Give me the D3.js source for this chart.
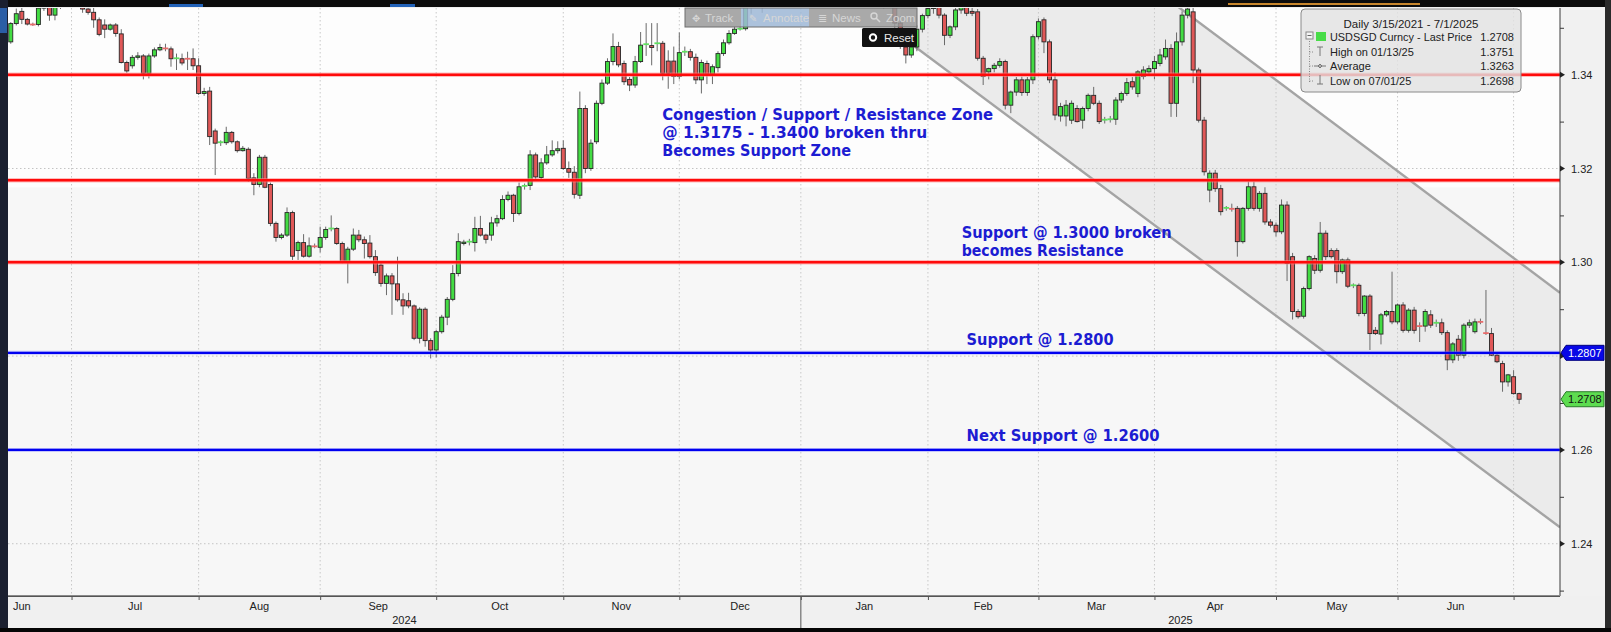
<!DOCTYPE html>
<html>
<head>
<meta charset="utf-8">
<script src="https://cdn.jsdelivr.net/npm/d3@7/dist/d3.min.js"></script>
<style>
html,body{margin:0;padding:0;background:#f0f0f0;}
svg{display:block;}
</style>
</head>
<body>
<svg id="chart" width="1611" height="632"></svg>
<script>
// ================= DATA (USDSGD daily candles: [open, high, low, close]) =================
const jun24 = [
[1.3470,1.3512,1.3466,1.3509],[1.3509,1.3541,1.3505,1.3530],[1.3535,1.3546,1.3508,1.3518],
[1.3518,1.3521,1.3505,1.3508],[1.3508,1.3511,1.3504,1.3507],[1.3507,1.3552,1.3503,1.3542],
[1.3542,1.3565,1.3536,1.3558],[1.3548,1.3558,1.3515,1.3527],[1.3527,1.3556,1.3516,1.3545],
[1.3545,1.3578,1.3540,1.3568],[1.3568,1.3582,1.3552,1.3562]];
const jul24 = [
[1.3562,1.3590,1.3555,1.3580],[1.3580,1.3592,1.3560,1.3572],[1.3572,1.3578,1.3532,1.3540],
[1.3540,1.3552,1.3528,1.3533],[1.3533,1.3543,1.3500,1.3517],[1.3517,1.3522,1.3482,1.3486],
[1.3506,1.3518,1.3478,1.3497],[1.3497,1.3509,1.3494,1.3506],[1.3506,1.3510,1.3481,1.3488],
[1.3487,1.3497,1.3424,1.3426],[1.3426,1.3430,1.3404,1.3408],[1.3419,1.3442,1.3413,1.3437],
[1.3437,1.3448,1.3432,1.3440],[1.3440,1.3444,1.3390,1.3403],[1.3403,1.3445,1.3392,1.3440],
[1.3440,1.3458,1.3436,1.3453],[1.3453,1.3466,1.3450,1.3458],[1.3458,1.3466,1.3450,1.3456],
[1.3455,1.3460,1.3417,1.3434],[1.3434,1.3445,1.3410,1.3435],[1.3434,1.3445,1.3420,1.3425],
[1.3436,1.3449,1.3410,1.3434],[1.3434,1.3456,1.3410,1.3419]];
const aug24 = [
[1.3419,1.3435,1.3357,1.3360],[1.3360,1.3372,1.3355,1.3364],[1.3365,1.3374,1.3250,1.3268],
[1.3280,1.3285,1.3186,1.3254],[1.3254,1.3260,1.3248,1.3256],[1.3255,1.3289,1.3250,1.3277],
[1.3277,1.3280,1.3253,1.3257],[1.3257,1.3260,1.3234,1.3238],[1.3238,1.3248,1.3236,1.3243],
[1.3241,1.3245,1.3172,1.3179],[1.3180,1.3190,1.3143,1.3166],[1.3166,1.3229,1.3160,1.3224],
[1.3224,1.3229,1.3158,1.3160],[1.3166,1.3170,1.3077,1.3083],[1.3083,1.3087,1.3044,1.3053],
[1.3053,1.3062,1.3049,1.3058],[1.3058,1.3117,1.3054,1.3106],[1.3106,1.3110,1.3005,1.3013],
[1.3025,1.3046,1.3005,1.3042],[1.3042,1.3060,1.3010,1.3013],[1.3013,1.3053,1.3010,1.3035],
[1.3036,1.3040,1.3030,1.3034]];
const sep24 = [
[1.3032,1.3076,1.3021,1.3053],[1.3053,1.3076,1.3048,1.3070],[1.3070,1.3100,1.3066,1.3072],
[1.3072,1.3075,1.3037,1.3040],[1.3040,1.3044,1.2998,1.3001],[1.3001,1.3033,1.2955,1.3028],
[1.3028,1.3072,1.3024,1.3058],[1.3058,1.3069,1.3043,1.3048],[1.3048,1.3055,1.3008,1.3040],
[1.3041,1.3058,1.3008,1.3012],[1.3012,1.3026,1.2971,1.2978],[1.2994,1.2998,1.2948,1.2955],
[1.2955,1.2976,1.2930,1.2971],[1.2971,1.2977,1.2888,1.2954],[1.2954,1.3012,1.2916,1.2920],
[1.2920,1.2934,1.2888,1.2907],[1.2918,1.2935,1.2902,1.2907],[1.2907,1.2910,1.2834,1.2838],
[1.2838,1.2904,1.2827,1.2900],[1.2900,1.2904,1.2820,1.2833],[1.2833,1.2838,1.2795,1.2813]];
const oct24 = [
[1.2813,1.2856,1.2797,1.2852],[1.2852,1.2888,1.2848,1.2883],[1.2883,1.2926,1.2866,1.2921],
[1.2921,1.2994,1.2917,1.2976],[1.2976,1.3062,1.2970,1.3044],[1.3040,1.3048,1.3036,1.3043],
[1.3043,1.3050,1.3036,1.3044],[1.3042,1.3097,1.3023,1.3072],[1.3072,1.3099,1.3055,1.3058],
[1.3058,1.3061,1.3040,1.3049],[1.3058,1.3097,1.3046,1.3084],[1.3084,1.3101,1.3076,1.3093],
[1.3093,1.3143,1.3090,1.3134],[1.3134,1.3151,1.3130,1.3143],[1.3143,1.3146,1.3086,1.3104],
[1.3104,1.3170,1.3100,1.3161],[1.3161,1.3168,1.3155,1.3163],[1.3164,1.3239,1.3154,1.3229],
[1.3229,1.3234,1.3177,1.3182],[1.3181,1.3222,1.3175,1.3212],[1.3212,1.3248,1.3208,1.3229],
[1.3229,1.3260,1.3225,1.3238],[1.3238,1.3258,1.3232,1.3242]];
const nov24 = [
[1.3243,1.3260,1.3197,1.3200],[1.3200,1.3215,1.3180,1.3192],[1.3192,1.3205,1.3136,1.3145],
[1.3143,1.3364,1.3135,1.3328],[1.3328,1.3335,1.3190,1.3200],[1.3200,1.3262,1.3195,1.3254],
[1.3257,1.3345,1.3252,1.3339],[1.3339,1.3390,1.3335,1.3382],[1.3382,1.3435,1.3378,1.3428],
[1.3428,1.3488,1.3420,1.3460],[1.3460,1.3470,1.3416,1.3421],[1.3424,1.3430,1.3378,1.3385],
[1.3390,1.3395,1.3365,1.3378],[1.3378,1.3440,1.3372,1.3428],[1.3428,1.3491,1.3425,1.3463],
[1.3463,1.3510,1.3440,1.3465],[1.3462,1.3510,1.3420,1.3458],[1.3465,1.3510,1.3450,1.3467],
[1.3467,1.3472,1.3388,1.3403],[1.3429,1.3452,1.3370,1.3403],[1.3429,1.3460,1.3380,1.3396]];
const dec24 = [
[1.3396,1.3490,1.3390,1.3447],[1.3447,1.3460,1.3440,1.3449],[1.3449,1.3455,1.3430,1.3437],
[1.3437,1.3445,1.3380,1.3389],[1.3389,1.3432,1.3360,1.3426],[1.3424,1.3430,1.3380,1.3401],
[1.3401,1.3422,1.3380,1.3417],[1.3415,1.3450,1.3405,1.3445],[1.3445,1.3475,1.3440,1.3468],
[1.3468,1.3495,1.3464,1.3488],[1.3488,1.3502,1.3485,1.3497],[1.3497,1.3503,1.3494,1.3498],
[1.3498,1.3560,1.3494,1.3545],[1.3545,1.3585,1.3530,1.3575],[1.3575,1.3600,1.3560,1.3590],
[1.3590,1.3610,1.3532,1.3598],[1.3598,1.3612,1.3585,1.3600],[1.3600,1.3618,1.3590,1.3610],
[1.3610,1.3640,1.3600,1.3625],[1.3625,1.3645,1.3610,1.3630],[1.3630,1.3660,1.3620,1.3650],
[1.3650,1.3668,1.3630,1.3655]];
const jan25 = [
[1.3655,1.3668,1.3640,1.3650],[1.3650,1.3690,1.3645,1.3680],[1.3680,1.3695,1.3665,1.3675],
[1.3675,1.3685,1.3625,1.3640],[1.3640,1.3680,1.3630,1.3670],[1.3670,1.3715,1.3665,1.3705],
[1.3705,1.3725,1.3695,1.3715],[1.3715,1.3740,1.3700,1.3730],[1.3730,1.3751,1.3705,1.3720],
[1.3720,1.3725,1.3680,1.3690],[1.3690,1.3700,1.3650,1.3670],[1.3670,1.3690,1.3655,1.3675],
[1.3675,1.3705,1.3660,1.3695],[1.3695,1.3700,1.3560,1.3580],[1.3580,1.3600,1.3545,1.3565],
[1.3565,1.3590,1.3540,1.3575],[1.3575,1.3590,1.3545,1.3555],[1.3555,1.3560,1.3500,1.3510],
[1.3510,1.3525,1.3455,1.3460],[1.3459,1.3465,1.3424,1.3442],[1.3442,1.3470,1.3436,1.3459],
[1.3459,1.3505,1.3450,1.3497],[1.3497,1.3530,1.3490,1.3526]];
const feb25 = [
[1.3526,1.3700,1.3520,1.3541],[1.3541,1.3580,1.3530,1.3560],[1.3545,1.3560,1.3520,1.3527],
[1.3527,1.3531,1.3463,1.3484],[1.3484,1.3505,1.3478,1.3502],[1.3502,1.3545,1.3495,1.3538],
[1.3538,1.3570,1.3530,1.3555],[1.3545,1.3560,1.3525,1.3531],[1.3535,1.3548,1.3525,1.3531],
[1.3534,1.3540,1.3430,1.3435],[1.3435,1.3440,1.3378,1.3396],[1.3406,1.3415,1.3390,1.3413],
[1.3413,1.3425,1.3405,1.3420],[1.3420,1.3435,1.3415,1.3428],[1.3428,1.3432,1.3326,1.3335],
[1.3335,1.3366,1.3318,1.3363],[1.3363,1.3395,1.3355,1.3389],[1.3389,1.3396,1.3355,1.3362],
[1.3362,1.3395,1.3355,1.3389],[1.3389,1.3486,1.3380,1.3481]];
const mar25 = [
[1.3481,1.3520,1.3475,1.3513],[1.3517,1.3522,1.3446,1.3470],[1.3470,1.3475,1.3382,1.3389],
[1.3389,1.3405,1.3303,1.3314],[1.3312,1.3340,1.3300,1.3332],[1.3312,1.3346,1.3290,1.3335],
[1.3303,1.3345,1.3295,1.3339],[1.3328,1.3335,1.3298,1.3300],[1.3303,1.3332,1.3285,1.3328],
[1.3328,1.3360,1.3322,1.3356],[1.3356,1.3374,1.3335,1.3339],[1.3339,1.3345,1.3295,1.3300],
[1.3302,1.3310,1.3296,1.3304],[1.3304,1.3312,1.3298,1.3305],[1.3305,1.3352,1.3293,1.3346],
[1.3346,1.3364,1.3340,1.3360],[1.3360,1.3393,1.3355,1.3383],[1.3385,1.3395,1.3368,1.3374],
[1.3360,1.3410,1.3352,1.3406],[1.3396,1.3418,1.3390,1.3410],[1.3406,1.3420,1.3400,1.3413]];
const apr25 = [
[1.3413,1.3440,1.3390,1.3428],[1.3424,1.3455,1.3418,1.3442],[1.3438,1.3475,1.3432,1.3456],
[1.3456,1.3465,1.3310,1.3339],[1.3339,1.3490,1.3310,1.3470],[1.3470,1.3535,1.3462,1.3527],
[1.3527,1.3560,1.3520,1.3540],[1.3534,1.3545,1.3382,1.3410],[1.3410,1.3415,1.3298,1.3303],
[1.3303,1.3310,1.3185,1.3193],[1.3154,1.3196,1.3128,1.3190],[1.3190,1.3197,1.3150,1.3157],
[1.3157,1.3165,1.3100,1.3108],[1.3115,1.3120,1.3110,1.3116],[1.3116,1.3125,1.3108,1.3114],
[1.3115,1.3120,1.3012,1.3044],[1.3044,1.3118,1.3040,1.3115],[1.3115,1.3172,1.3110,1.3161],
[1.3161,1.3172,1.3110,1.3115],[1.3115,1.3152,1.3108,1.3147],[1.3147,1.3160,1.3080,1.3086],
[1.3086,1.3092,1.3074,1.3079]];
const may25 = [
[1.3079,1.3085,1.3055,1.3065],[1.3065,1.3134,1.3060,1.3122],[1.3122,1.3130,1.2960,1.2998],
[1.3012,1.3020,1.2878,1.2895],[1.2895,1.2900,1.2880,1.2884],[1.2885,1.2948,1.2880,1.2944],
[1.2944,1.3015,1.2940,1.3012],[1.3008,1.3015,1.2975,1.2983],[1.2983,1.3086,1.2978,1.3062],
[1.3062,1.3068,1.3005,1.3012],[1.3025,1.3030,1.3008,1.3012],[1.3025,1.3030,1.2955,1.2980],
[1.2980,1.3008,1.2975,1.3005],[1.3005,1.3010,1.2945,1.2949],[1.2949,1.2955,1.2945,1.2951],
[1.2951,1.2955,1.2885,1.2891],[1.2891,1.2930,1.2885,1.2928],[1.2928,1.2932,1.2813,1.2848],
[1.2855,1.2862,1.2845,1.2848],[1.2847,1.2892,1.2825,1.2888],[1.2888,1.2898,1.2884,1.2895],
[1.2895,1.2980,1.2868,1.2873]];
const jun25 = [
[1.2873,1.2912,1.2868,1.2909],[1.2909,1.2915,1.2850,1.2855],[1.2855,1.2902,1.2850,1.2898],
[1.2898,1.2905,1.2848,1.2855],[1.2866,1.2872,1.2830,1.2864],[1.2864,1.2900,1.2852,1.2895],
[1.2888,1.2898,1.2860,1.2866],[1.2869,1.2878,1.2862,1.2871],[1.2871,1.2880,1.2845,1.2850],
[1.2850,1.2855,1.2770,1.2792],[1.2792,1.2830,1.2785,1.2826],[1.2836,1.2845,1.2790,1.2802],
[1.2802,1.2870,1.2795,1.2866],[1.2866,1.2878,1.2860,1.2871],[1.2852,1.2880,1.2848,1.2873],
[1.2874,1.2880,1.2868,1.2873],[1.2851,1.2941,1.2845,1.2849],[1.2848,1.2860,1.2800,1.2802],
[1.2802,1.2806,1.2785,1.2788],[1.2784,1.2790,1.2724,1.2745],[1.2745,1.2762,1.2735,1.2760]];
const jul25 = [
[1.2756,1.2770,1.2718,1.2720],[1.2720,1.2722,1.2698,1.2708]];
const firstIndex = -11;                 // first visible trading-day slot (mid-June 2024)

// month boundaries (trading-day index of first day) and labels
const monthStarts = [0,23,45,66,89,110,132,155,175,196,218,240,261];
const monthNames  = ["Jul","Aug","Sep","Oct","Nov","Dec","Jan","Feb","Mar","Apr","May","Jun"];
const firstMonthName = "Jun";
const years = [{t:"2024", from:-11.5, to:132},{t:"2025", from:132, to:269.4}];

// y axis
const yMajor = [1.24,1.26,1.28,1.30,1.32,1.34];
const yLabelled = [1.24,1.26,1.30,1.32,1.34];   // 1.28 sits under the 1.2807 tag
const yMinor = [1.23,1.25,1.27,1.29,1.31,1.33,1.35];

// drawn levels
const redLevels  = [1.34, 1.3175, 1.30];
const blueLevels = [1.2807, 1.26];
// channel lines as [index, price] anchor pairs
const channelUpper = [[200.6,1.3542],[269.4,1.2935]];
const channelLower = [[175.3,1.3261],[269.4,1.2435]];
const channelStart = 150;

// price tags
const lastPrice = 1.2708, supportTag = 1.2807;

// annotations: anchor at [index, price]
const notes = [
  {t:"Congestion / Support / Resistance Zone", i:106.9, p:1.33035, w:331},
  {t:"@ 1.3175 - 1.3400 broken thru",          i:106.9, p:1.32651, w:265},
  {t:"Becomes Support Zone",                   i:106.9, p:1.32267, w:189},
  {t:"Support @ 1.3000 broken",                i:161.1, p:1.30513, w:210},
  {t:"becomes Resistance",                     i:161.1, p:1.30130, w:162},
  {t:"Support @ 1.2800",                       i:162.0, p:1.28232, w:147},
  {t:"Next Support @ 1.2600",                  i:162.0, p:1.26185, w:193}
];

// legend
const legendTitle = "Daily 3/15/2021 - 7/1/2025";
const legendRows = [
  {label:"USDSGD Curncy - Last Price", value:"1.2708"},
  {label:"High on 01/13/25", value:"1.3751"},
  {label:"Average", value:"1.3263"},
  {label:"Low on 07/01/25", value:"1.2698"}
];
const toolbarItems = ["Track","Annotate","News","Zoom"];

// ================= DRAWING =================
const W=1611, H=632, L=8, R=1560, T=8, B=596;
const svg = d3.select("#chart");
const x = d3.scaleLinear().domain([-11.5, 269.4]).range([L, R]);
const y = d3.scaleLinear().domain([1.22885, 1.35422]).range([B, T]);

const all = [].concat(jun24,jul24,aug24,sep24,oct24,nov24,dec24,jan25,feb25,mar25,apr25,may25,jun25,jul25);
const candles = all.map((d,k)=>({i:firstIndex+k,o:d[0],h:d[1],l:d[2],c:d[3]}));

svg.append("rect").attr("width",W).attr("height",H).attr("fill","#f0f0f0");
const defs = svg.append("defs");
defs.append("clipPath").attr("id","plotclip").append("rect")
  .attr("x",L).attr("y",T).attr("width",R-L).attr("height",B-T);

// plot background
svg.append("rect").attr("x",L).attr("y",T).attr("width",R-L).attr("height",B-T).attr("fill","#fdfdfd");
svg.append("rect").attr("x",L).attr("y",y(1.316)).attr("width",R-L).attr("height",B-y(1.316)).attr("fill","#f7f7f7");

const plot = svg.append("g").attr("clip-path","url(#plotclip)");

// channel fill
function lineAt(line, i){ const [a,b]=line; return a[1]+(b[1]-a[1])*(i-a[0])/(b[0]-a[0]); }
const iEnd = x.domain()[1];
plot.append("path")
  .attr("d", d3.line()([
    [x(channelStart), y(lineAt(channelUpper,channelStart))],
    [x(iEnd), y(lineAt(channelUpper,iEnd))],
    [x(iEnd), y(lineAt(channelLower,iEnd))],
    [x(channelStart), y(lineAt(channelLower,channelStart))]
  ])+"Z").attr("fill","#ebebeb");

// gridlines
plot.selectAll(".hg").data(yMajor).enter().append("line")
  .attr("x1",L).attr("x2",R).attr("y1",d=>y(d)).attr("y2",d=>y(d))
  .attr("stroke","#c4c4c4").attr("stroke-width",1).attr("stroke-dasharray","1.5,2.5");
plot.selectAll(".vg").data(monthStarts).enter().append("line")
  .attr("x1",d=>x(d)).attr("x2",d=>x(d)).attr("y1",T).attr("y2",B)
  .attr("stroke","#c8c8c8").attr("stroke-width",1).attr("stroke-dasharray","1.5,2.5");

// channel lines
[channelUpper, channelLower].forEach((ln,k)=>{
  const i0 = k===0 ? 190 : channelStart;
  plot.append("line")
    .attr("x1",x(i0)).attr("y1",y(lineAt(ln,i0)))
    .attr("x2",x(iEnd)).attr("y2",y(lineAt(ln,iEnd)))
    .attr("stroke","#a4a4a4").attr("stroke-width",2.4);
});

// toolbar (under the candles)
const tbX=[685,741,809,863,917], tbY=8, tbH=19;
const tb = svg.append("g");
toolbarItems.forEach((t,k)=>{
  tb.append("rect").attr("x",tbX[k]).attr("y",tbY).attr("width",tbX[k+1]-tbX[k]).attr("height",tbH)
    .attr("fill", k===1 ? "#9db7d6" : "#9a9a9a").attr("opacity",0.85);
});
tb.append("rect").attr("x",tbX[0]).attr("y",tbY).attr("width",tbX[4]-tbX[0]).attr("height",tbH)
  .attr("fill","none").attr("stroke","#6e6e6e").attr("stroke-width",1);
const tbTextX=[705,763,832,886];
toolbarItems.forEach((t,k)=>{
  tb.append("text").attr("x",tbTextX[k]).attr("y",22).text(t)
    .attr("font-family","Liberation Sans, Arial, sans-serif").attr("font-size",11.5).attr("fill","#d6d6d6");
});
tb.append("text").attr("x",692).attr("y",22).text("\u2725").attr("font-family","DejaVu Sans").attr("font-size",10).attr("fill","#d6d6d6");
tb.append("text").attr("x",749).attr("y",22).text("\u270E").attr("font-family","DejaVu Sans").attr("font-size",10).attr("fill","#d6d6d6");
tb.append("text").attr("x",818).attr("y",22).text("\u2263").attr("font-family","DejaVu Sans").attr("font-size",11).attr("fill","#d6d6d6");
tb.append("circle").attr("cx",874).attr("cy",16).attr("r",3).attr("fill","none").attr("stroke","#d6d6d6").attr("stroke-width",1.4);
tb.append("line").attr("x1",876).attr("y1",18).attr("x2",880).attr("y2",22).attr("stroke","#d6d6d6").attr("stroke-width",1.6);

// candles
const bw = 4;
const cg = plot.append("g");
cg.selectAll(".wick").data(candles).enter().append("line")
  .attr("x1",d=>x(d.i)).attr("x2",d=>x(d.i)).attr("y1",d=>y(d.h)).attr("y2",d=>y(d.l))
  .attr("stroke","#6a6a6a").attr("stroke-width",1);
const isDoji = d => Math.abs(y(d.o)-y(d.c)) < 1.3;
cg.selectAll(".body").data(candles.filter(d=>!isDoji(d))).enter().append("rect")
  .attr("x",d=>x(d.i)-bw/2).attr("width",bw)
  .attr("y",d=>y(Math.max(d.o,d.c))).attr("height",d=>Math.abs(y(d.o)-y(d.c)))
  .attr("fill",d=>d.c>=d.o?"#43dc43":"#e05858").attr("stroke","#262626").attr("stroke-width",0.9);
cg.selectAll(".doji").data(candles.filter(isDoji)).enter().append("line")
  .attr("x1",d=>x(d.i)-2.8).attr("x2",d=>x(d.i)+2.8).attr("y1",d=>y(d.c)).attr("y2",d=>y(d.c))
  .attr("stroke",d=>d.c>=d.o?"#5ee05e":"#e86a6a").attr("stroke-width",1.8);

// horizontal levels (on top of candles)
redLevels.forEach(v=>{
  plot.append("line").attr("x1",L).attr("x2",R).attr("y1",y(v)).attr("y2",y(v))
    .attr("stroke","#ff8a8a").attr("stroke-width",4.5).attr("opacity",0.55);
  plot.append("line").attr("x1",L).attr("x2",R).attr("y1",y(v)).attr("y2",y(v))
    .attr("stroke","#ff0a0a").attr("stroke-width",2.4);
});
blueLevels.forEach(v=>{
  plot.append("line").attr("x1",L).attr("x2",R).attr("y1",y(v)).attr("y2",y(v))
    .attr("stroke","#8c8cff").attr("stroke-width",4).attr("opacity",0.45);
  plot.append("line").attr("x1",L).attr("x2",R).attr("y1",y(v)).attr("y2",y(v))
    .attr("stroke","#0000f0").attr("stroke-width",2.2);
});

// annotations
notes.forEach(n=>{
  svg.append("text").attr("x",x(n.i)).attr("y",y(n.p)).text(n.t)
    .attr("font-family","DejaVu Sans, sans-serif").attr("font-weight","bold").attr("font-size",15)
    .attr("fill","#1c1cd2").attr("textLength",n.w).attr("lengthAdjust","spacingAndGlyphs");
});

// Reset button
const rb = svg.append("g");
rb.append("rect").attr("x",862).attr("y",28).attr("width",55).attr("height",19).attr("rx",1.5).attr("fill","#121212");
rb.append("circle").attr("cx",873).attr("cy",37.5).attr("r",3.2).attr("fill","none").attr("stroke","#fff").attr("stroke-width",2);
rb.append("text").attr("x",884).attr("y",42).text("Reset").attr("font-family","Liberation Sans, Arial, sans-serif")
  .attr("font-size",11.5).attr("fill","#e8e8e8");

// legend
const lg = svg.append("g");
lg.append("rect").attr("x",1301).attr("y",9).attr("width",220).attr("height",83).attr("rx",4)
  .attr("fill","#e2e2e2").attr("fill-opacity",0.82).attr("stroke","#8a8a8a").attr("stroke-width",1);
const lf = "Liberation Sans, Arial, sans-serif";
lg.append("text").attr("x",1411).attr("y",28).attr("text-anchor","middle").text(legendTitle)
  .attr("font-family",lf).attr("font-size",11.5).attr("fill","#222");
const rowY=[41,56,70,85];
lg.append("line").attr("x1",1309.5).attr("x2",1309.5).attr("y1",41).attr("y2",82)
  .attr("stroke","#888").attr("stroke-width",1).attr("stroke-dasharray","1,1.5");
legendRows.forEach((r,k)=>{
  const yy=rowY[k];
  const t = lg.append("text").attr("x",1330).attr("y",yy).text(r.label).attr("font-family",lf).attr("font-size",11).attr("fill","#222");
  if(k===0) t.attr("textLength",142).attr("lengthAdjust","spacingAndGlyphs");
  lg.append("text").attr("x",1514).attr("y",yy).attr("text-anchor","end").text(r.value).attr("font-family",lf).attr("font-size",11).attr("fill","#222");
  if(k>0) lg.append("line").attr("x1",1309.5).attr("x2",1314).attr("y1",yy-4).attr("y2",yy-4).attr("stroke","#888").attr("stroke-dasharray","1,1.5");
});
lg.append("rect").attr("x",1306).attr("y",32).attr("width",7).attr("height",7).attr("fill","#f4f4f4").attr("stroke","#888");
lg.append("line").attr("x1",1307.5).attr("x2",1311.5).attr("y1",35.5).attr("y2",35.5).attr("stroke","#666");
lg.append("rect").attr("x",1316).attr("y",32).attr("width",10).attr("height",9).attr("fill","#48dc48");
lg.append("path").attr("d","M1317,47H1323M1320,47V56").attr("stroke","#777").attr("fill","none");
lg.append("path").attr("d","M1314,66H1326M1318,66L1320,64L1322,66L1320,68Z").attr("stroke","#777").attr("fill","none");
lg.append("path").attr("d","M1320,75V84M1317,84H1323").attr("stroke","#777").attr("fill","none");

// axes area and axes
svg.append("rect").attr("x",R+1).attr("y",T).attr("width",W-R-7).attr("height",B-T).attr("fill","#f1f1f1");
const af = "Liberation Sans, Arial, sans-serif";
const yAx = svg.append("g").attr("transform",`translate(${R},0)`)
  .call(d3.axisRight(y).tickValues(yLabelled).tickSize(0).tickPadding(11).tickFormat(d3.format(".2f")));
yAx.select(".domain").attr("stroke","#3a3a3a").attr("d",`M0,${T}V${B}`);
yAx.selectAll("text").attr("font-family",af).attr("font-size",11).attr("fill","#222");
svg.append("g").attr("transform",`translate(${R},0)`)
  .call(d3.axisRight(y).tickValues(yMinor).tickSize(4).tickFormat(""))
  .call(g=>{g.select(".domain").remove(); g.selectAll("line").attr("stroke","#3a3a3a");});
svg.selectAll(".tri").data(yMajor).enter().append("path")
  .attr("d",d=>`M${R},${y(d)-3}L${R+5},${y(d)}L${R},${y(d)+3}Z`).attr("fill","#222");

const xAx = svg.append("g").attr("transform",`translate(0,${B})`)
  .call(d3.axisBottom(x).tickValues(monthStarts).tickSize(4).tickFormat(""));
xAx.select(".domain").attr("stroke","#555").attr("d",`M${L},0.5H${R}`);
xAx.selectAll("line").attr("stroke","#555");
svg.append("line").attr("x1",L).attr("x2",R).attr("y1",B-0.5).attr("y2",B-0.5).attr("stroke","#8a8a8a");
for(let k=0;k<monthNames.length;k++){
  const c=(monthStarts[k]+monthStarts[k+1])/2;
  svg.append("text").attr("x",x(c)).attr("y",610).attr("text-anchor","middle").text(monthNames[k])
    .attr("font-family",af).attr("font-size",11).attr("fill","#222");
}
svg.append("text").attr("x",x(-11.5)+5).attr("y",610).text(firstMonthName)
  .attr("font-family",af).attr("font-size",11).attr("fill","#222");
years.forEach(yr=>{
  svg.append("text").attr("x",(x(yr.from)+x(yr.to))/2).attr("y",624).attr("text-anchor","middle").text(yr.t)
    .attr("font-family",af).attr("font-size",11).attr("fill","#222");
});
svg.append("line").attr("x1",x(132)).attr("x2",x(132)).attr("y1",B).attr("y2",628).attr("stroke","#555");

// price tags
function tag(v, fill, stroke, tc){
  const yy=y(v);
  svg.append("path").attr("d",`M${R+1},${yy}L${R+6},${yy-7.5}H1604V${yy+7.5}H${R+6}Z`)
    .attr("fill",fill).attr("stroke",stroke).attr("stroke-width",1);
  svg.append("text").attr("x",R+8).attr("y",yy+4).text(d3.format(".4f")(v))
    .attr("font-family",af).attr("font-size",11).attr("fill",tc);
}
tag(supportTag,"#0808e6","#000080","#ffffff");
tag(lastPrice,"#5ddc50","#2b7a2b","#111");

// frame: top bar, left strip, right strip, bottom strip
svg.append("rect").attr("x",0).attr("y",0).attr("width",W).attr("height",7).attr("fill","#0c0c0c");
svg.append("rect").attr("x",169).attr("y",4).attr("width",34).attr("height",3).attr("fill","#2262b8");
svg.append("rect").attr("x",390).attr("y",4).attr("width",25).attr("height",3).attr("fill","#2262b8");
svg.append("rect").attr("x",1228).attr("y",3).attr("width",192).attr("height",2).attr("fill","#c8862c");
svg.append("rect").attr("x",0).attr("y",0).attr("width",L).attr("height",H).attr("fill","#1b2030");
svg.append("rect").attr("x",0).attr("y",8).attr("width",7).attr("height",25).attr("fill","#2b5ea6");
svg.append("rect").attr("x",1605).attr("y",0).attr("width",6).attr("height",H).attr("fill","#2a2a2a");
svg.append("rect").attr("x",0).attr("y",628).attr("width",W).attr("height",4).attr("fill","#050505");
</script>
</body>
</html>
